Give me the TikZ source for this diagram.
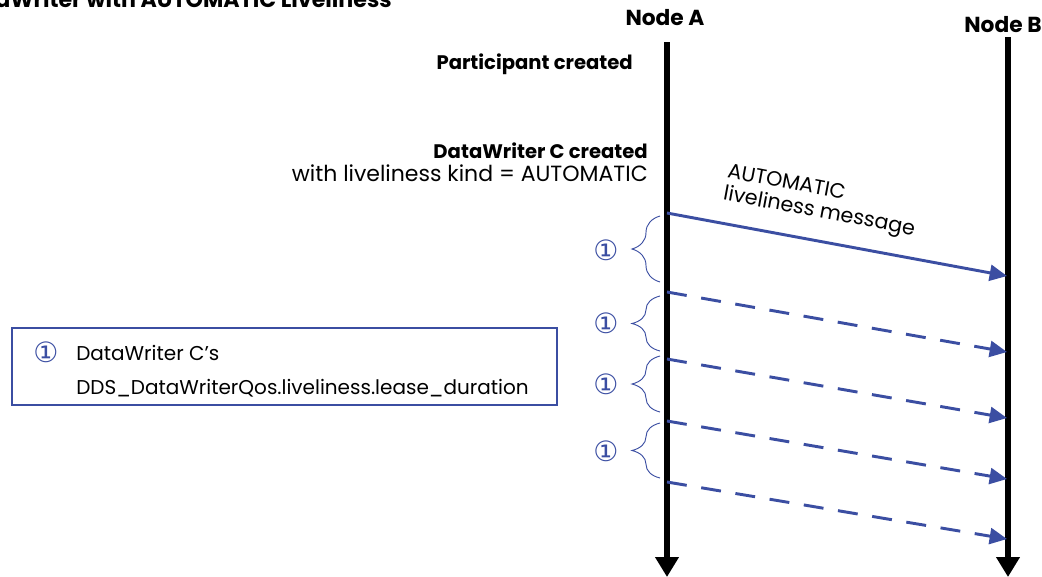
\documentclass[tikz,border=0pt]{standalone}
\usepackage{fontspec}
\setmainfont{Poppins}
\newfontfamily\symfont{DejaVu Sans}
\usetikzlibrary{arrows.meta,positioning,calc,decorations.pathreplacing}
\definecolor{Blue}{HTML}{3B4EA2}
\tikzset{
  head/.style={font=\fontsize{16.3}{18}\selectfont\bfseries,inner sep=0pt},
  event/.style={font=\fontsize{14.7}{16}\selectfont\bfseries,inner sep=0pt,anchor=base east},
  note/.style={font=\fontsize{16.5}{18}\selectfont,inner sep=0pt,anchor=base east},
  lifeline/.style={line width=5pt,-{Triangle[length=15pt,width=17pt]}},
  msg/.style={draw=Blue,line width=2.2pt,-{Triangle[length=13pt,width=12pt]}},
  dmsg/.style={msg,dash pattern=on 15pt off 11pt},
  curly/.style={draw=Blue,line width=.7pt,decorate,decoration={brace,amplitude=21pt}},
  num/.style={text=Blue,font=\symfont\fontsize{21}{21}\selectfont,inner sep=0pt},
  keybox/.style={draw=Blue,line width=1.6pt},
  keytext/.style={font=\fontsize{15}{17}\selectfont,inner sep=0pt,anchor=base west}
}

\begin{document}
\begin{tikzpicture}[x=0.75pt,y=-0.75pt]
  \useasboundingbox (0,0) rectangle (1042,576);
  % title, cut by the page edge
  \node[font=\fontsize{16.6}{19}\selectfont\bfseries,inner sep=0pt,anchor=base east] (title) at (392,7) {DataWriter with AUTOMATIC Liveliness};

  % the two nodes and their time lines
  \node[head] (nodeA) at (665,18) {Node A};
  \node[head] (nodeB) at (1003,25) {Node B};
  \coordinate (aTop) at (667,42);
  \coordinate (aEnd) at (667,577);
  \coordinate (bTop) at (1008,37);
  \coordinate (bEnd) at (1008,577);
  \draw[lifeline] (aTop) -- (aEnd);
  \draw[lifeline] (bTop) -- (bEnd);

  % events on node A
  \node[event] (part) at (633,69) {Participant created};
  \node[event] (dwc) at (648,158) {DataWriter C created};
  \node[note] (kind) at (648,181) {with liveliness kind = AUTOMATIC};

  % first message
  \coordinate (s0) at (667,213);
  \coordinate (r0) at (1007,276);
  \draw[msg] (s0) -- (r0);
  \node[font=\fontsize{15.5}{17}\selectfont,align=left,rotate=-10.56,inner sep=0pt] (auto) at (821,202) {AUTOMATIC\\liveliness message};

  % later messages
  \foreach \ya/\yb [count=\i] in {292/352,359/418,421/479,482/539} {
    \coordinate (s\i) at (667,\ya);
    \coordinate (r\i) at (1007,\yb);
    \draw[dmsg] (s\i) -- (r\i);
  }

  % lease duration braces
  \foreach \yt/\yb/\ym [count=\i] in {216/282/250,296/351/323,356/412/384,423/478/451} {
    \draw[curly] (660,\yb) -- (660,\yt);
    \node[num] (n\i) at (606,\ym) {①};
  }

  % key
  \draw[keybox] (12,328) rectangle (557,405);
  \node[num] (k0) at (46,352) {①};
  \node[keytext] (k1) at (76,360) {DataWriter C’s};
  \node[keytext] (k2) at (76,394) {DDS\_DataWriterQos.liveliness.lease\_duration};
\end{tikzpicture}
\end{document}
